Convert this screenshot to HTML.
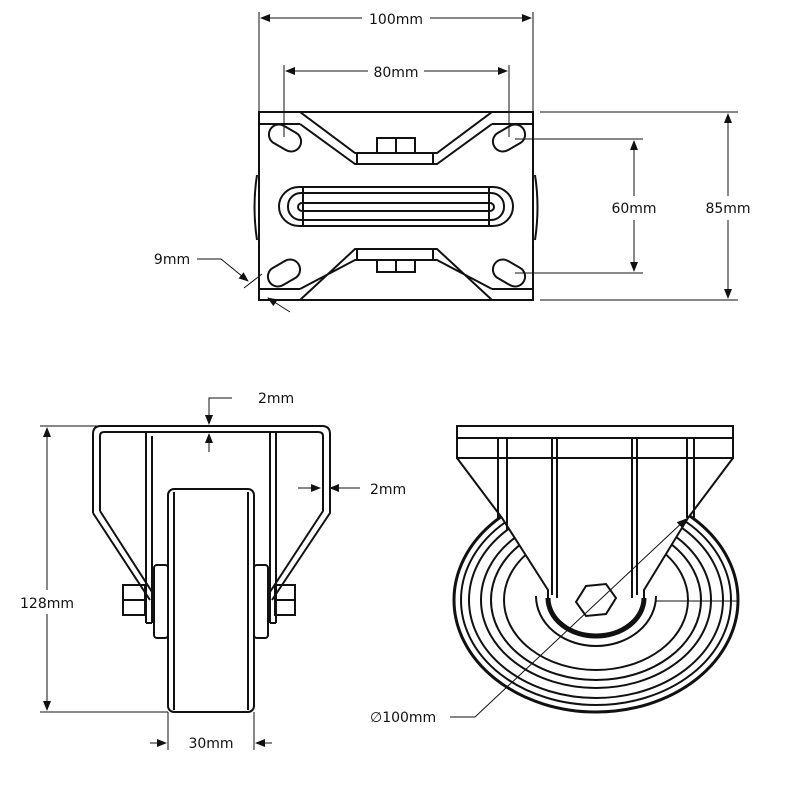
<!DOCTYPE html>
<html><head><style>body{margin:0;background:#fff}svg{display:block}text{font-family:"DejaVu Sans","Liberation Sans",sans-serif;font-size:14px;fill:#111}</style></head><body>
<svg width="800" height="800" viewBox="0 0 800 800" xmlns="http://www.w3.org/2000/svg">
<defs><marker id="a" markerWidth="10" markerHeight="8" refX="9" refY="4" orient="auto" markerUnits="userSpaceOnUse"><path d="M0,0 L10,4 L0,8z" fill="#111"/></marker></defs>
<g fill="none" stroke="#111" stroke-width="1">
<line x1="259" y1="12" x2="259" y2="112"/><line x1="533" y1="12" x2="533" y2="112"/>
<line x1="362" y1="18" x2="261" y2="18" marker-end="url(#a)"/><line x1="430" y1="18" x2="531" y2="18" marker-end="url(#a)"/>
<line x1="284" y1="65" x2="284" y2="137"/><line x1="509" y1="65" x2="509" y2="137"/>
<line x1="368" y1="71" x2="286" y2="71" marker-end="url(#a)"/><line x1="424" y1="71" x2="507" y2="71" marker-end="url(#a)"/>
<line x1="540" y1="112" x2="738" y2="112"/><line x1="540" y1="300" x2="738" y2="300"/>
<line x1="515" y1="139" x2="643" y2="139"/><line x1="515" y1="273" x2="643" y2="273"/>
<line x1="634" y1="196" x2="634" y2="141" marker-end="url(#a)"/><line x1="634" y1="220" x2="634" y2="271" marker-end="url(#a)"/>
<line x1="728" y1="196" x2="728" y2="114" marker-end="url(#a)"/><line x1="728" y1="220" x2="728" y2="298" marker-end="url(#a)"/>
<polyline points="197,259 221,259 248,281" marker-end="url(#a)"/><line x1="244" y1="288" x2="262" y2="274"/><line x1="290" y1="312" x2="268" y2="298" marker-end="url(#a)"/>
</g>
<g fill="none" stroke="#111" stroke-width="2">
<rect x="259" y="112" width="274" height="188"/>
<line x1="259" y1="124" x2="300" y2="124"/><line x1="492" y1="124" x2="533" y2="124"/>
<line x1="259" y1="289" x2="300" y2="289"/><line x1="492" y1="289" x2="533" y2="289"/>
<path d="M300,112 L355,153 L437,153 L492,112 M300,124 L355,164 L437,164 L492,124 M357,153 V164 M433,153 V164"/>
<path d="M300,300 L355,249 L437,249 L492,300 M300,289 L355,260 L437,260 L492,289 M357,249 V260 M433,249 V260"/>
<rect x="377" y="138" width="38" height="15"/><line x1="396" y1="138" x2="396" y2="153"/>
<rect x="377" y="260" width="38" height="12"/><line x1="396" y1="260" x2="396" y2="272"/>
<rect x="279" y="187" width="234" height="39" rx="20"/>
<rect x="288" y="193" width="216" height="27" rx="13"/>
<rect x="298" y="203" width="196" height="8" rx="4"/>
<line x1="303" y1="187" x2="303" y2="226"/><line x1="489" y1="187" x2="489" y2="226"/>
<path d="M257,175 Q252,207 257,240 M535,175 Q540,207 535,240"/>
<g transform="translate(285,138) rotate(30)"><rect x="-17" y="-10" width="34" height="20" rx="10"/></g>
<g transform="translate(509,138) rotate(-30)"><rect x="-17" y="-10" width="34" height="20" rx="10"/></g>
<g transform="translate(284,273) rotate(-30)"><rect x="-17" y="-10" width="34" height="20" rx="10"/></g>
<g transform="translate(509,273) rotate(30)"><rect x="-17" y="-10" width="34" height="20" rx="10"/></g>
</g>
<text x="396" y="24" text-anchor="middle">100mm</text>
<text x="396" y="77" text-anchor="middle">80mm</text>
<text x="634" y="213" text-anchor="middle">60mm</text>
<text x="728" y="213" text-anchor="middle">85mm</text>
<text x="172" y="264" text-anchor="middle">9mm</text>
<g fill="none" stroke="#111" stroke-width="1">
<line x1="40" y1="426" x2="100" y2="426"/><line x1="40" y1="712" x2="168" y2="712"/>
<line x1="47" y1="590" x2="47" y2="428" marker-end="url(#a)"/><line x1="47" y1="614" x2="47" y2="710" marker-end="url(#a)"/>
<line x1="168" y1="712" x2="168" y2="750"/><line x1="254" y1="712" x2="254" y2="750"/>
<line x1="150" y1="743" x2="166" y2="743" marker-end="url(#a)"/><line x1="272" y1="743" x2="256" y2="743" marker-end="url(#a)"/>
<polyline points="232,398 209,398 209,424" marker-end="url(#a)"/><line x1="209" y1="452" x2="209" y2="434" marker-end="url(#a)"/>
<line x1="298" y1="488" x2="320" y2="488" marker-end="url(#a)"/><line x1="360" y1="488" x2="330" y2="488" marker-end="url(#a)"/>
</g>
<g fill="none" stroke="#111" stroke-width="2">
<path d="M93,513 V434 Q93,426 101,426 H322 Q330,426 330,434 V513 L272,600"/>
<path d="M93,513 L150,600 M100,511 V436 Q100,432 104,432 H318 Q323,432 323,436 V511 L268,595 M100,511 L154,595"/>
<path d="M146,432 V623 M152,436 V623 M270,432 V623 M276,432 V623 M146,623 H152 M270,623 H276"/>
<rect x="168" y="489" width="86" height="223" rx="6"/><line x1="174" y1="492" x2="174" y2="710"/><line x1="248" y1="492" x2="248" y2="710"/>
<rect x="154" y="565" width="14" height="73" rx="3"/><rect x="254" y="565" width="14" height="73" rx="3"/>
<rect x="123" y="585" width="22" height="30"/><rect x="275" y="585" width="20" height="30"/>
<line x1="123" y1="600" x2="145" y2="600"/><line x1="275" y1="600" x2="295" y2="600"/>
</g>
<text x="258" y="403">2mm</text><text x="370" y="494">2mm</text>
<text x="47" y="608" text-anchor="middle" style="paint-order:stroke;stroke:#fff;stroke-width:4px">128mm</text>
<text x="211" y="748" text-anchor="middle">30mm</text>
<text x="370" y="722">∅100mm</text>
<g fill="none" stroke="#111" stroke-width="2">
<ellipse cx="596" cy="600" rx="142" ry="112" stroke-width="3"/>
<ellipse cx="596" cy="600" rx="135" ry="105"/>
<ellipse cx="596" cy="600" rx="127" ry="98"/>
<ellipse cx="596" cy="600" rx="115" ry="88"/>
<ellipse cx="596" cy="600" rx="105" ry="80"/>
<ellipse cx="596" cy="600" rx="92" ry="70"/>
<line x1="644" y1="601" x2="738" y2="601" stroke-width="1"/>
<polygon points="457,458 502,518 548,592 644,592 688,518 733,458" fill="#fff" stroke="none"/>
<path d="M536,596 A60,50 0 0 0 656,596" fill="#fff"/>
<path d="M548,598 A48,38 0 0 0 644,598" stroke-width="5"/>
<rect x="457" y="426" width="276" height="32" fill="#fff"/>
<line x1="457" y1="438" x2="733" y2="438"/>
<path d="M457,458 L502,518 L548,590 L548,600 M733,458 L688,518 L644,590 L644,600"/>
<path d="M498,438 V518 M507,438 V530 M552,438 V595 M557,438 V598 M632,438 V598 M637,438 V595 M687,438 V518 M694,438 V518"/>
<polygon points="586,586 606,584 616,598 606,614 586,616 576,602" fill="#fff"/>
</g>
<polyline points="450,717 475,717 686,519" fill="none" stroke="#111" stroke-width="1" marker-end="url(#a)"/>
</svg>
</body></html>
